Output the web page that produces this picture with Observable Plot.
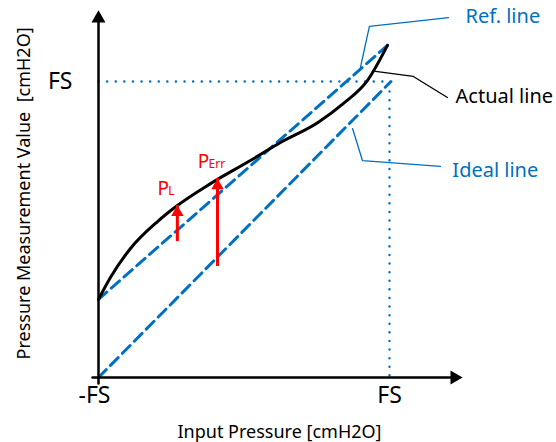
<!DOCTYPE html>
<html>
<head>
<meta charset="utf-8">
<script src="https://cdn.jsdelivr.net/npm/d3@7"></script>
<script src="https://cdn.jsdelivr.net/npm/@observablehq/plot@0.6"></script>
<style>
  html, body { margin: 0; padding: 0; background: #fff; }
  #chart svg { display: block; }
  #chart svg text { white-space: pre; }
</style>
</head>
<body>
<div id="chart"></div>
<script>
// Units: percent of span, -FS = 0, FS = 100
const xTicks = [0, 100];
const xTickLabels = ["-FS", "FS"];
const yTicks = [100];
const yTickLabels = ["FS"];

// Actual (measured) curve
const actualX = [0, 4.1, 11.0, 20.3, 27.1, 38.5, 52.2, 62.5, 75.3, 84.2, 92.4, 99.3];
const actualY = [26.4, 33.8, 43.6, 52.7, 58.1, 65.5, 73.3, 79.4, 86.1, 92.6, 100.3, 112.2];

// Ideal line
const idealX = [0, 100.5];
const idealY = [0, 100];

// Red error arrows
const errNames = ["L", "Err"];
const errX = [27.1, 40.9];
const errFrom = [48.6, 40.2];
const errTo = [58.1, 67.2];

// Callout labels
const calloutNames = ["Ref. line", "Actual line", "Ideal line"];
const calloutColors = ["#0070C0", "#000000", "#0070C0"];
const calloutPathX = [[90.0, 93.1, 120.3], [95.2, 108.2, 119.9], [87.3, 90.7, 117.5]];
const calloutPathY = [[104.7, 118.6, 121.6], [103.4, 101.7, 94.6], [84.1, 73.3, 71.3]];
const calloutTextX = [126.1, 122.7, 121.6];
const calloutTextY = [119.6, 92.9, 67.6];

// Axis extents
const xAxisEnd = 125.1;
const yAxisEnd = 124.0;

const xLabel = "Input Pressure [cmH2O]";
const yLabel = "Pressure Measurement Value  [cmH2O]";

const blue = "#0070C0";
const red = "#FF0000";
const font = "'Noto Sans', 'DejaVu Sans', sans-serif";

const actual = actualX.map((x, i) => ({x, y: actualY[i]}));
const ref = [actual[0], actual[actual.length - 1]];
const ideal = idealX.map((x, i) => ({x, y: idealY[i]}));
const errs = errNames.map((n, i) => ({n, x: errX[i], y1: errFrom[i], y2: errTo[i]}));
const callouts = calloutNames.flatMap((n, i) => calloutPathX[i].map((x, j) => ({n, c: calloutColors[i], x, y: calloutPathY[i][j]})));
const calloutTexts = calloutNames.map((n, i) => ({n, c: calloutColors[i], x: calloutTextX[i], y: calloutTextY[i]}));

const chart = Plot.plot({
  width: 556,
  height: 442,
  marginLeft: 98,
  marginRight: 167,
  marginTop: 81,
  marginBottom: 65,
  x: {domain: [0, 100]},
  y: {domain: [0, 100]},
  style: {fontFamily: font, background: "#fff", overflow: "visible"},
  marks: [
    // dotted FS guides
    Plot.line([{x: 0, y: 100}, {x: 100, y: 100}, {x: 100, y: 0}], {x: "x", y: "y", stroke: blue, strokeWidth: 2.4, strokeDasharray: "0.1 8.5", strokeLinecap: "round"}),
    // ideal and reference lines
    Plot.line(ideal, {x: "x", y: "y", stroke: blue, strokeWidth: 3, strokeDasharray: "11 6"}),
    Plot.line(ref, {x: "x", y: "y", stroke: blue, strokeWidth: 3, strokeDasharray: "11 6"}),
    // actual curve
    Plot.line(actual, {x: "x", y: "y", stroke: "#000", strokeWidth: 3, curve: "monotone-x"}),
    // axes
    Plot.line([{x: 0, y: 0}, {x: xAxisEnd, y: 0}], {x: "x", y: "y", stroke: "#000", strokeWidth: 2.5, dx: -6}),
    Plot.line([{x: 0, y: 0}, {x: 0, y: yAxisEnd}], {x: "x", y: "y", stroke: "#000", strokeWidth: 2.5, dy: 6}),
    Plot.dot([{x: xAxisEnd, y: 0}], {x: "x", y: "y", symbol: "triangle", r: 5.2, fill: "#000", stroke: "none", rotate: 90, dx: -8}),
    Plot.dot([{x: 0, y: yAxisEnd}], {x: "x", y: "y", symbol: "triangle", r: 5.2, fill: "#000", stroke: "none", dy: 8}),
    Plot.axisX({ticks: [xTicks[0]], tickFormat: d => xTickLabels[xTicks.indexOf(d)], tickSize: 0, tickPadding: 9, fontSize: 23, fill: "#000", label: null, dx: -4}),
    Plot.axisX({ticks: [xTicks[1]], tickFormat: d => xTickLabels[xTicks.indexOf(d)], tickSize: 0, tickPadding: 9, fontSize: 23, fill: "#000", label: null}),
    Plot.axisY({ticks: yTicks, tickFormat: d => yTickLabels[yTicks.indexOf(d)], tickSize: 0, tickPadding: 26, fontSize: 23, fill: "#000", label: null}),
    // red arrows
    Plot.ruleX(errs, {x: "x", y1: "y1", y2: "y2", stroke: red, strokeWidth: 3, insetTop: 8}),
    Plot.dot(errs, {x: "x", y: "y2", symbol: "triangle", r: 4.6, fill: red, stroke: "none", dy: 7}),
    Plot.text(errs, {x: d => d.x - 6.8, y: d => d.y2 + 3.6, text: () => "P", fill: red, fontSize: 19, textAnchor: "start", lineAnchor: "bottom"}),
    Plot.text(errs, {x: d => d.x - 3.1, y: d => d.y2 + 3.6, text: "n", fill: red, fontSize: 12, textAnchor: "start", lineAnchor: "bottom"}),
    // callouts
    Plot.line(callouts, {x: "x", y: "y", z: "n", stroke: "c", strokeWidth: 1.3}),
    Plot.text(calloutTexts, {x: "x", y: "y", text: "n", fill: "c", fontSize: 20, textAnchor: "start", lineAnchor: "bottom"}),
    // axis titles
    Plot.text([xLabel], {x: 62.2, y: -18.6, text: d => d, fontSize: 18, fill: "#000"}),
    Plot.text([yLabel], {x: -25.4, y: 62.2, text: d => d, fontSize: 18, fill: "#000", rotate: -90})
  ]
});
document.getElementById("chart").appendChild(chart);
</script>
</body>
</html>
